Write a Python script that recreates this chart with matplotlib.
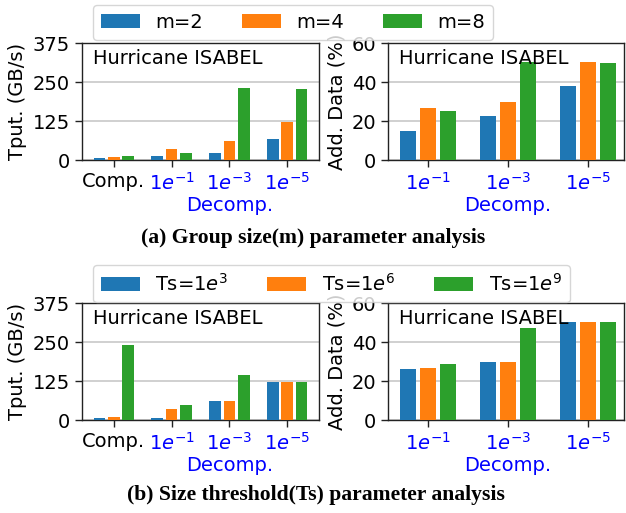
import numpy as np
import matplotlib
matplotlib.use('Agg')
import matplotlib.pyplot as plt

# data
tput_ticks = ['Comp.', r'$1e^{-1}$', r'$1e^{-3}$', r'$1e^{-5}$']
add_ticks = [r'$1e^{-1}$', r'$1e^{-3}$', r'$1e^{-5}$']

# (a) group size
m_labels = ['m=2', 'm=4', 'm=8']
m_tput = [[6, 13, 23, 68],
          [10, 35, 62, 122],
          [13, 23, 231, 227]]
m_add = [[14.8, 22.5, 37.8],
         [26.6, 29.7, 50.1],
         [25.0, 50.3, 50.0]]

# (b) size threshold
ts_labels = [r'Ts=1$e^{3}$', r'Ts=1$e^{6}$', r'Ts=1$e^{9}$']
ts_tput = [[6, 6, 61, 122],
           [10, 35, 61, 122],
           [240, 48, 144, 122]]
ts_add = [[26.1, 29.7, 50.1],
          [26.6, 29.7, 50.1],
          [28.6, 47.0, 50.1]]

colors = ['#1f77b4', '#ff7f0e', '#2ca02c']
plt.rcParams['font.family'] = ['DejaVu Sans']
plt.rcParams['mathtext.fontset'] = 'dejavusans'
FS = 14

fig = plt.figure(figsize=(6.26, 5.13), dpi=100)


def style_axes(ax):
    ax.grid(axis='y', color='#c8c8c8', linewidth=1.2)
    ax.set_axisbelow(True)
    for sp in ax.spines.values():
        sp.set_color('#222222')
        sp.set_linewidth(1.0)
    ax.tick_params(labelsize=FS, length=5, width=1.0, color='#222222')
    ax.text(0.045, 0.95, 'Hurricane ISABEL', transform=ax.transAxes,
            ha='left', va='top', fontsize=FS, zorder=10)


def bars(ax, series, labels):
    x = np.arange(len(series[0]))
    handles = []
    for i, vals in enumerate(series):
        h = ax.bar(x + (i - 1) * 0.25, vals, width=0.2, color=colors[i],
                   label=labels[i], zorder=3)
        handles.append(h)
    return handles


def make_row(bottom, tput, add, labels, legend_top):
    # throughput panel
    ax1 = fig.add_axes([82 / 626, bottom, 237 / 626, 0.228])
    handles = bars(ax1, tput, labels)
    ax1.set_xlim(-0.55, 3.55)
    ax1.set_ylim(0, 375)
    ax1.set_yticks([0, 125, 250, 375])
    ax1.set_xticks(range(4))
    ax1.set_xticklabels(tput_ticks)
    for t in ax1.get_xticklabels()[1:]:
        t.set_color('blue')
    ax1.set_ylabel('Tput. (GB/s)', fontsize=FS)
    ax1.set_xlabel('Decomp.', fontsize=FS, color='blue')
    ax1.xaxis.set_label_coords((2 + 0.55) / 4.1, -0.31)
    style_axes(ax1)

    # additional data panel
    ax2 = fig.add_axes([388 / 626, bottom, 236 / 626, 0.228])
    bars(ax2, add, labels)
    ax2.set_xlim(-0.5, 2.45)
    ax2.set_ylim(0, 60)
    ax2.set_yticks([0, 20, 40, 60])
    ax2.set_xticks(range(3))
    ax2.set_xticklabels(add_ticks, color='blue')
    ax2.set_ylabel('Add. Data (%)', fontsize=FS)
    ax2.set_xlabel('Decomp.', fontsize=FS, color='blue')
    ax2.xaxis.set_label_coords((1 + 0.5) / 2.95, -0.31)
    style_axes(ax2)

    fig.legend(handles=handles, loc='upper left', ncol=3, fontsize=FS,
               bbox_to_anchor=(93 / 626, legend_top), borderaxespad=0.0,
               frameon=True)


make_row(1 - 160 / 513, m_tput, m_add, m_labels, 1 - 5 / 513)
make_row(1 - 420 / 513, ts_tput, ts_add, ts_labels, 1 - 265 / 513)

fig.text(313 / 626, 1 - 238 / 513, '(a) Group size(m) parameter analysis',
         ha='center', va='center', fontsize=15.6, fontweight='bold',
         family='Liberation Serif')
fig.text(316 / 626, 1 - 495 / 513, '(b) Size threshold(Ts) parameter analysis',
         ha='center', va='center', fontsize=15.6, fontweight='bold',
         family='Liberation Serif')

fig.savefig('out.png', dpi=100)
